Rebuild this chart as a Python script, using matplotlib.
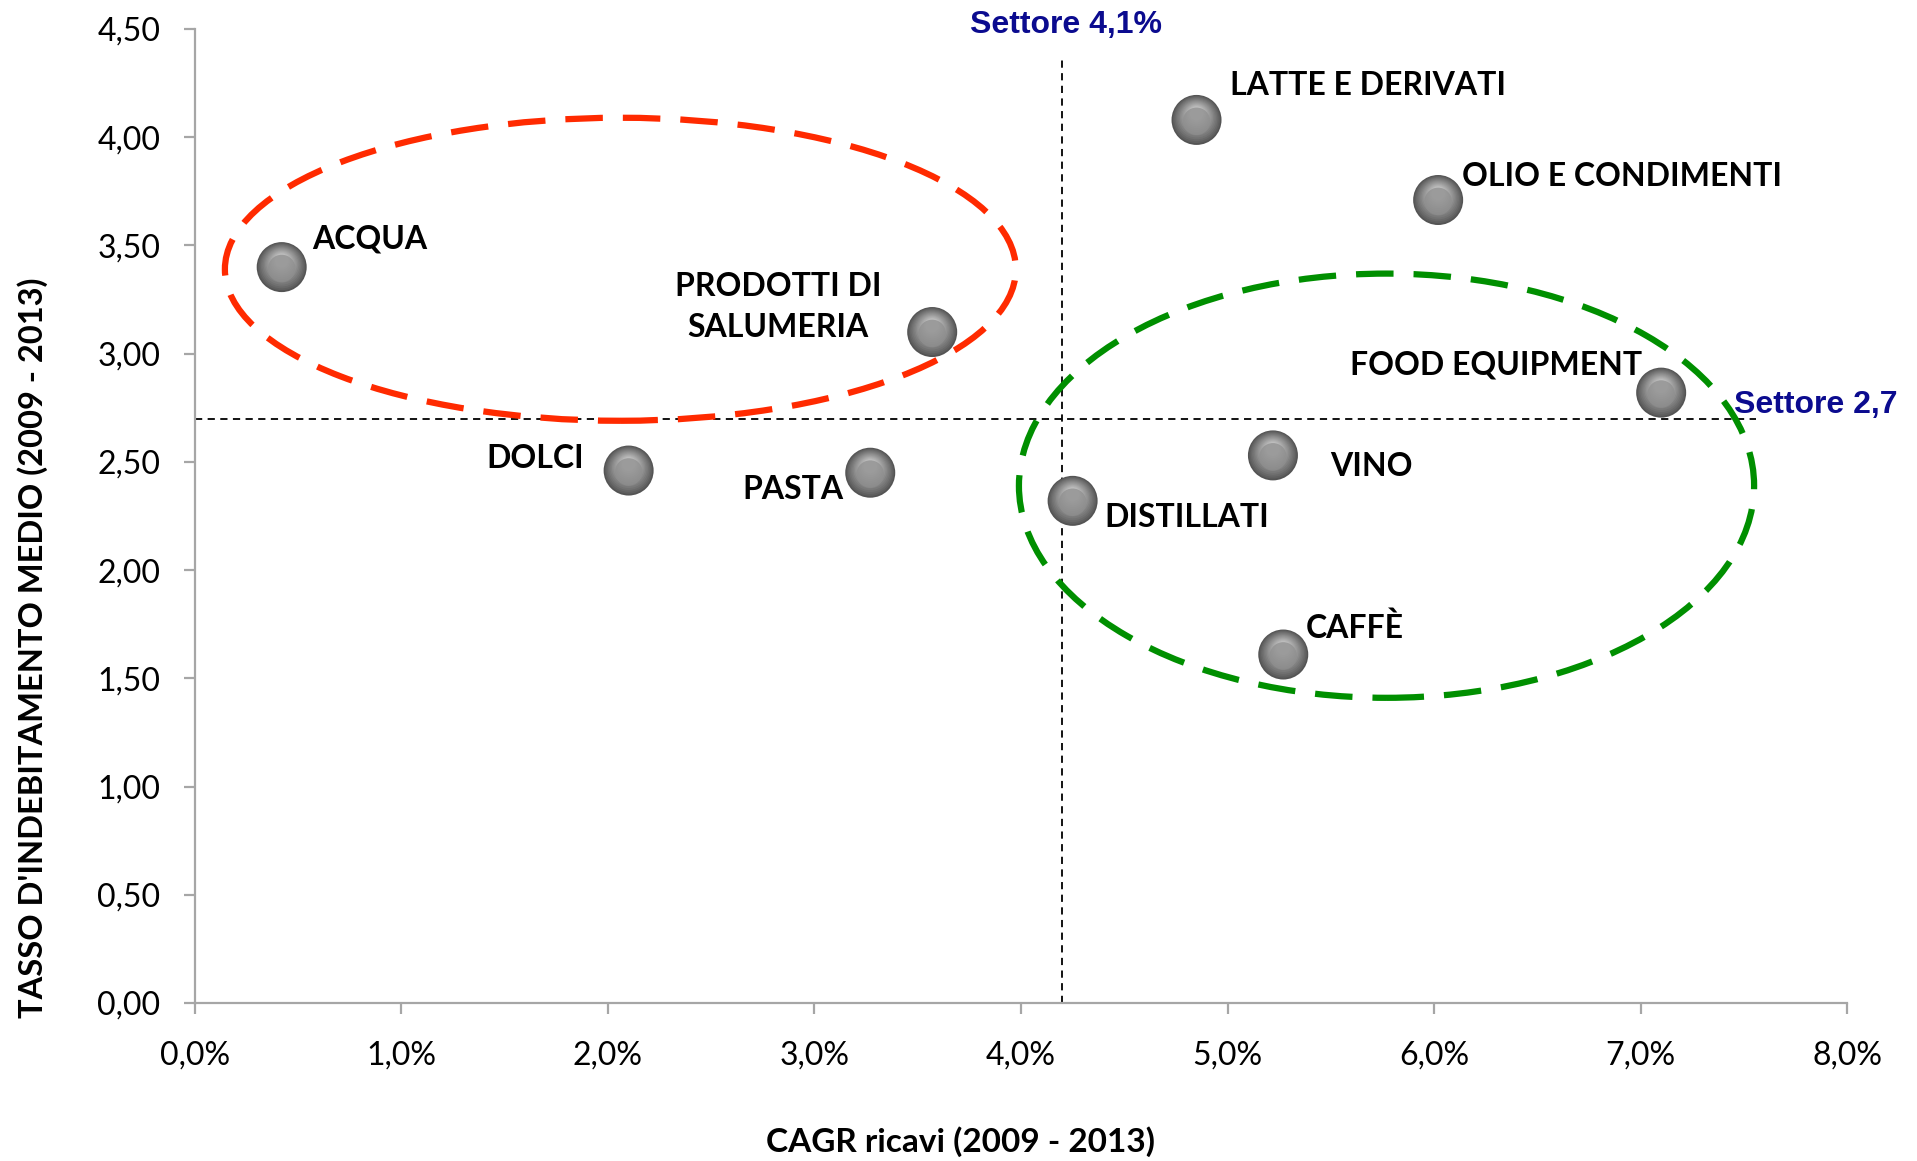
import matplotlib
matplotlib.use("Agg")
import matplotlib.pyplot as plt
import numpy as np
from matplotlib.patches import Ellipse
from matplotlib.transforms import ScaledTranslation
from matplotlib.ticker import FuncFormatter

# ---------------- data ----------------
categories = ["ACQUA", "PRODOTTI DI\nSALUMERIA", "DOLCI", "PASTA", "DISTILLATI",
              "LATTE E DERIVATI", "OLIO E CONDIMENTI", "FOOD EQUIPMENT", "VINO", "CAFFÈ"]
cagr = [0.42, 3.57, 2.10, 3.27, 4.25, 4.85, 6.02, 7.10, 5.22, 5.27]          # % CAGR ricavi
debt = [3.40, 3.10, 2.46, 2.45, 2.32, 4.08, 3.71, 2.82, 2.53, 1.61]          # tasso indebitamento
sector_cagr = 4.2
sector_debt = 2.70
x_ticks = [0, 1, 2, 3, 4, 5, 6, 7, 8]
y_ticks = [0, 0.5, 1, 1.5, 2, 2.5, 3, 3.5, 4, 4.5]

# label offsets (points) and alignment per category (style only)
label_style = {
    "ACQUA": ((22, 20), "left"),
    "PRODOTTI DI\nSALUMERIA": ((-111, 18), "center"),
    "DOLCI": ((-32, 9), "right"),
    "PASTA": ((-19, -12), "right"),
    "DISTILLATI": ((23, -12), "left"),
    "LATTE E DERIVATI": ((24, 25), "left"),
    "OLIO E CONDIMENTI": ((17, 17), "left"),
    "FOOD EQUIPMENT": ((-14, 20), "right"),
    "VINO": ((41, -8), "left"),
    "CAFFÈ": ((16, 19), "left"),
}

FONT = ["Lato", "DejaVu Sans"]
ARIAL = ["Liberation Sans", "DejaVu Sans"]
NAVY = "#0b0b8f"

fig = plt.figure(figsize=(19.17, 11.61), dpi=100)
ax = fig.add_axes([0.1017, 0.1361, 0.9635 - 0.1017, 0.975 - 0.1361])

ax.set_xlim(0, 8)
ax.set_ylim(0, 4.5)
ax.set_xticks(x_ticks)
ax.set_yticks(y_ticks)
ax.xaxis.set_major_formatter(FuncFormatter(lambda v, p: f"{v:.1f}%".replace(".", ",")))
ax.yaxis.set_major_formatter(FuncFormatter(lambda v, p: f"{v:.2f}".replace(".", ",")))
for s in ["top", "right"]:
    ax.spines[s].set_visible(False)
for s in ["left", "bottom"]:
    ax.spines[s].set_color("#a6a6a6")
    ax.spines[s].set_linewidth(1.6)
ax.tick_params(axis="both", direction="out", length=8, width=1.6, color="#a6a6a6",
               labelsize=23)
ax.tick_params(axis="y", pad=17)
ax.tick_params(axis="x", pad=19)
for lab in ax.get_xticklabels() + ax.get_yticklabels():
    lab.set_family(FONT)

# sector reference lines
ax.plot([sector_cagr, sector_cagr], [0, 4.36], color="black", lw=1.3,
        linestyle=(0, (4, 3)), zorder=2)
ax.plot([0, 7.56], [sector_debt, sector_debt], color="black", lw=1.3,
        linestyle=(0, (4, 3)), zorder=2)

# ellipses
ax.add_patch(Ellipse((2.06, 3.39), 3.83, 1.40, fill=False, edgecolor="#ff2a00",
                     lw=4.5, linestyle=(0, (6, 3.2)), zorder=3))
ax.add_patch(Ellipse((5.77, 2.39), 3.56, 1.96, fill=False, edgecolor="#008f00",
                     lw=4.5, linestyle=(0, (6, 3.2)), zorder=3))

# sphere-like markers
D = 36.0  # points diameter
n = 14
for i in range(n):
    f = i / (n - 1)
    size = D * (1 - 0.72 * f)
    g = 0.33 + 0.42 * f ** 0.9
    off = ScaledTranslation(0, 4.5 * f / 72, fig.dpi_scale_trans)
    ax.scatter(cagr, debt, s=size ** 2, color=(g, g, g), edgecolors="none",
               transform=ax.transData + off, zorder=5 + i * 0.01)
off = ScaledTranslation(0, -1.0 / 72, fig.dpi_scale_trans)
ax.scatter(cagr, debt, s=(D * 0.55) ** 2, color="#8f8f8f", edgecolors="none", alpha=0.75,
           transform=ax.transData + off, zorder=6)

# labels
for name, x, y in zip(categories, cagr, debt):
    (dx, dy), ha = label_style[name]
    ax.annotate(name, (x, y), xytext=(dx, dy), textcoords="offset points",
                ha=ha, va="center", fontsize=23, fontweight="bold", family=FONT,
                multialignment="center", linespacing=1.5, zorder=7)

# sector labels
ax.annotate("Settore 4,1%", (sector_cagr, 1.0), xycoords=("data", "axes fraction"),
            xytext=(3, 3), textcoords="offset points",
            ha="center", va="center", fontsize=23, fontweight="bold", color=NAVY,
            family=ARIAL, annotation_clip=False)
ax.annotate("Settore 2,7", (7.56, sector_debt), xytext=(-16, 4), textcoords="offset points",
            ha="left", va="baseline", fontsize=23, fontweight="bold", color=NAVY,
            family=ARIAL, annotation_clip=False)

# axis titles
fig.text(960 / 1917, 1 - 1142 / 1161, "CAGR ricavi (2009 - 2013)", ha="center", va="center",
         fontsize=24, fontweight="bold", family=FONT)
fig.text(33 / 1917, 1 - 648 / 1161, "TASSO D'INDEBITAMENTO MEDIO (2009 - 2013)", ha="center",
         va="center", rotation=90, fontsize=23.5, fontweight="bold", family=FONT)

fig.savefig("out.png", dpi=100, facecolor="white")
